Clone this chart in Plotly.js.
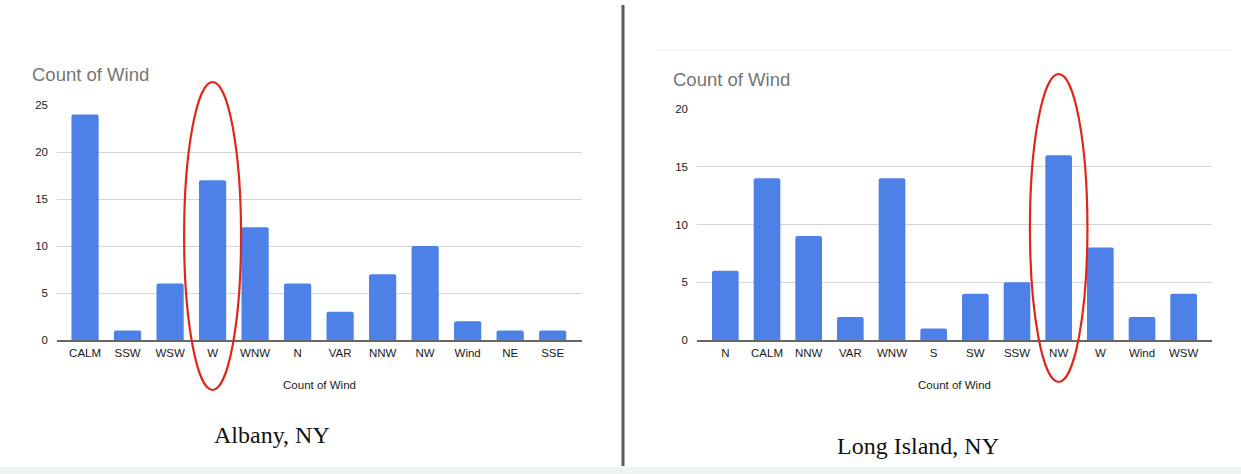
<!DOCTYPE html>
<html><head><meta charset="utf-8">
<script src="https://cdn.plot.ly/plotly-3.0.1.min.js"></script>
<style>html,body{margin:0;padding:0;background:#fff}#c{width:1241px;height:474px}</style>
</head><body><div id="c"></div>
<script>
const albanyDirs = ["CALM","SSW","WSW","W","WNW","N","VAR","NNW","NW","Wind","NE","SSE"];
const albanyCounts = [24,1,6,17,12,6,3,7,10,2,1,1];
const longIslandDirs = ["N","CALM","NNW","VAR","WNW","S","SW","SSW","NW","W","Wind","WSW"];
const longIslandCounts = [6,14,9,2,14,1,4,5,16,8,2,4];
const chartTitle = "Count of Wind";
const axisTitle = "Count of Wind";
const captions = ["Albany, NY","Long Island, NY"];
const highlighted = ["W","NW"];

const W = 1241, H = 474;
const px = v => v / W, py = v => 1 - v / H;
const blue = "#4e81e8";
const tickFont = {family:"Liberation Sans, Arial, sans-serif", size:11.5, color:"#1a1a1a"};

const traces = [
  {type:"bar", x:albanyDirs, y:albanyCounts, xaxis:"x", yaxis:"y",
   marker:{color:blue, cornerradius:2}, hoverinfo:"x+y", showlegend:false},
  {type:"bar", x:longIslandDirs, y:longIslandCounts, xaxis:"x2", yaxis:"y2",
   marker:{color:blue, cornerradius:2}, hoverinfo:"x+y", showlegend:false}
];

function xax(domain, range, anchor){
  return {domain, range, anchor, type:"category", showgrid:false, zeroline:false,
    showline:true, linecolor:"#666", linewidth:1.5, ticks:"", ticklabelstandoff:2, tickfont:tickFont,
    fixedrange:true,
    title:{text:axisTitle, font:{family:"Liberation Sans, Arial, sans-serif", size:11.5, color:"#1a1a1a"}, standoff:22}};
}
function yax(domain, range, dtick, anchor){
  return {domain, range, anchor, dtick, showgrid:true, gridcolor:"#d4d4d4", gridwidth:1,
    zeroline:false, showline:false, ticks:"", ticklabelstandoff:8, tickfont:tickFont, fixedrange:true};
}

const iW = albanyDirs.indexOf(highlighted[0]);
const iNW = longIslandDirs.indexOf(highlighted[1]);

const layout = {
  width:W, height:H, margin:{l:0,r:0,t:0,b:0},
  paper_bgcolor:"#ffffff", plot_bgcolor:"rgba(0,0,0,0)",
  bargap:0.36, showlegend:false,
  xaxis: xax([px(57), px(582)], [-0.66, 11.69], "y"),
  yaxis: yax([py(340), py(105)], [0, 25], 5, "x"),
  xaxis2: xax([px(697), px(1212)], [-0.68, 11.68], "y2"),
  yaxis2: yax([py(340), py(109)], [0, 20], 5, "x2"),
  shapes:[
    {type:"rect", xref:"paper", yref:"paper", x0:0, x1:1, y0:0, y1:py(467),
     fillcolor:"#eef4f4", line:{width:0}, layer:"below"},
    {type:"line", xref:"paper", yref:"paper", x0:px(655), x1:px(1232), y0:py(50), y1:py(50),
     line:{color:"#f3f3f3", width:1}, layer:"below"},
    {type:"line", xref:"paper", yref:"paper", x0:px(623), x1:px(623), y0:py(5), y1:py(466),
     line:{color:"#5a5a5a", width:3}},
    {type:"circle", xref:"x", yref:"paper", x0:iW-0.67, x1:iW+0.67, y0:py(390), y1:py(82),
     line:{color:"#e0261c", width:2.2}},
    {type:"circle", xref:"x2", yref:"paper", x0:iNW-0.69, x1:iNW+0.69, y0:py(382), y1:py(74),
     line:{color:"#e0261c", width:2.2}}
  ],
  annotations:[
    {text:chartTitle, xref:"paper", yref:"paper", x:px(30), y:py(75), xanchor:"left", yanchor:"middle",
     showarrow:false, font:{family:"Liberation Sans, Arial, sans-serif", size:18.5, color:"#757575"}},
    {text:chartTitle, xref:"paper", yref:"paper", x:px(671), y:py(80), xanchor:"left", yanchor:"middle",
     showarrow:false, font:{family:"Liberation Sans, Arial, sans-serif", size:18.5, color:"#757575"}},
    {text:captions[0], xref:"paper", yref:"paper", x:px(272), y:py(435), xanchor:"center", yanchor:"middle",
     showarrow:false, font:{family:"Liberation Serif, Times New Roman, serif", size:24, color:"#111"}},
    {text:captions[1], xref:"paper", yref:"paper", x:px(918), y:py(446), xanchor:"center", yanchor:"middle",
     showarrow:false, font:{family:"Liberation Serif, Times New Roman, serif", size:24, color:"#111"}}
  ]
};
Plotly.newPlot("c", traces, layout, {displayModeBar:false, staticPlot:true});
</script></body></html>
